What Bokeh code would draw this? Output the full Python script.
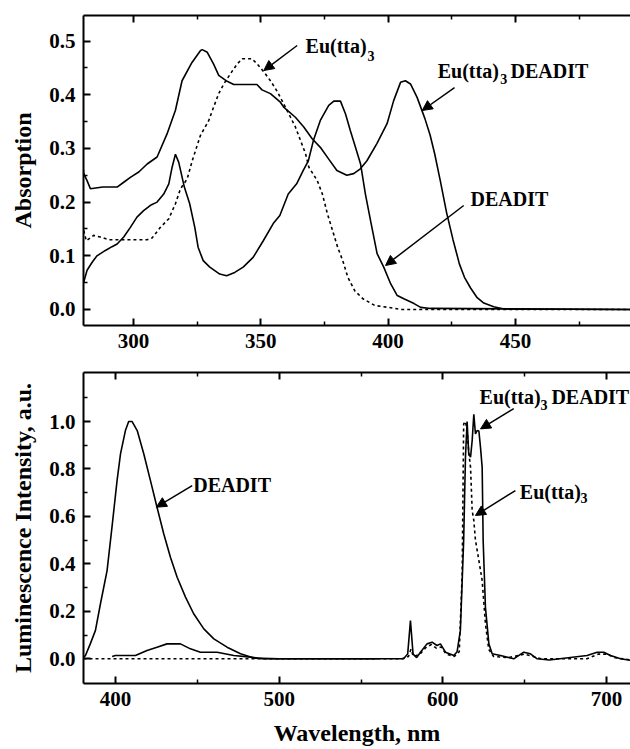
from bokeh.plotting import figure
from bokeh.layouts import column
from bokeh.models import (Arrow, NormalHead, Label, LinearAxis, FixedTicker,
                          Range1d, NumeralTickFormatter)
from bokeh.embed import file_html
from bokeh.resources import INLINE

# ---------------- data: absorption (top panel) ----------------
abs_complex_x = [280.3, 280.5, 281.8, 283.1, 288.0, 293.6, 296.2, 298.8, 302.1, 305.4, 309.3,
                 313.2, 316.5, 319.1, 323.0, 326.3, 327.0, 329.0, 331.5, 333.5, 336.8, 339.4,
                 348.5, 350.5, 353.8, 357.7, 359.0, 363.6, 366.9, 370.2, 373.4, 376.7, 379.9,
                 383.8, 386.5, 389.1, 391.7, 395.6, 399.6, 402.2, 404.9, 406.8, 408.8, 411.4,
                 414.5, 416.5, 418.3, 420.5, 423.0, 425.5, 428.0, 430.0, 432.4, 435.0, 437.6,
                 441.5, 445.5, 496.0]
abs_complex_y = [0.262, 0.253, 0.240, 0.225, 0.228, 0.228, 0.237, 0.246, 0.256, 0.271, 0.284,
                 0.327, 0.371, 0.426, 0.460, 0.482, 0.484, 0.479, 0.457, 0.436, 0.425, 0.419,
                 0.419, 0.409, 0.402, 0.386, 0.377, 0.358, 0.340, 0.318, 0.302, 0.280, 0.259,
                 0.250, 0.253, 0.262, 0.277, 0.309, 0.346, 0.389, 0.423, 0.426, 0.420, 0.395,
                 0.355, 0.325, 0.290, 0.240, 0.180, 0.130, 0.085, 0.060, 0.040, 0.022, 0.012,
                 0.005, 0.001, 0.0]

abs_deadit_x = [280.5, 281.8, 283.8, 285.7, 289.0, 291.6, 293.6, 296.2, 298.8, 301.4, 304.0,
                306.7, 309.3, 311.9, 313.9, 315.2, 316.5, 317.8, 320.0, 322.1, 324.1, 325.4,
                327.4, 330.0, 333.9, 336.6, 339.8, 343.1, 347.0, 351.0, 354.9, 357.5, 360.8,
                364.1, 366.7, 368.7, 370.7, 373.4, 376.7, 378.7, 381.3, 383.3, 385.2, 387.2,
                389.2, 391.1, 393.1, 395.7, 398.3, 401.0, 403.6, 406.2, 410.2, 412.8, 416.7,
                496.0]
abs_deadit_y = [0.051, 0.073, 0.088, 0.100, 0.110, 0.117, 0.122, 0.135, 0.153, 0.172, 0.184,
                0.194, 0.200, 0.215, 0.234, 0.265, 0.289, 0.274, 0.228, 0.197, 0.153, 0.116,
                0.091, 0.079, 0.066, 0.063, 0.069, 0.079, 0.097, 0.128, 0.160, 0.175, 0.215,
                0.234, 0.259, 0.277, 0.315, 0.352, 0.380, 0.388, 0.388, 0.364, 0.333, 0.302,
                0.271, 0.215, 0.166, 0.104, 0.079, 0.048, 0.026, 0.020, 0.011, 0.004, 0.002,
                0.0]

abs_eutta_x = [280.5, 281.5, 284.4, 287.0, 290.3, 305.4, 307.3, 310.6, 313.9, 316.5, 318.5,
               321.1, 323.1, 326.3, 329.6, 331.5, 333.5, 335.5, 338.1, 340.7, 342.7, 346.6,
               349.2, 351.8, 354.1, 356.6, 359.0, 361.7, 363.6, 365.6, 367.6, 368.9, 372.2,
               374.2, 376.2, 378.2, 380.2, 382.2, 384.2, 386.9, 390.1, 394.8, 400.0, 405.0,
               496.0]
abs_eutta_y = [0.147, 0.128, 0.138, 0.135, 0.130, 0.130, 0.133, 0.153, 0.169, 0.197, 0.225,
               0.243, 0.277, 0.324, 0.352, 0.377, 0.402, 0.420, 0.439, 0.457, 0.467, 0.467,
               0.454, 0.439, 0.424, 0.405, 0.383, 0.358, 0.340, 0.315, 0.290, 0.265, 0.240,
               0.215, 0.178, 0.147, 0.116, 0.091, 0.060, 0.035, 0.020, 0.0075, 0.004, 0.0,
               0.0]

# ---------------- data: luminescence (bottom panel) ----------------
lum_deadit_x = [380.5, 381.7, 384.7, 387.8, 390.8, 394.9, 397.9, 401.0, 403.1, 406.1, 408.1,
                410.2, 413.3, 417.3, 421.4, 425.4, 429.5, 433.6, 437.7, 442.8, 447.8, 454.0,
                460.1, 468.2, 476.4, 484.5, 500.0, 560.0]
lum_deadit_y = [0.005, 0.014, 0.064, 0.120, 0.230, 0.372, 0.555, 0.751, 0.864, 0.962, 1.0,
                1.0, 0.962, 0.864, 0.751, 0.639, 0.527, 0.428, 0.344, 0.260, 0.190, 0.126,
                0.084, 0.049, 0.021, 0.003, 0.0, 0.0]

lum_complex_x = [398.0, 400.0, 412.2, 419.3, 425.4, 431.5, 439.7, 445.8, 451.9, 462.1, 472.3,
                 482.5, 490.0, 576.0, 578.5, 580.2, 581.8, 584.0, 586.3, 590.3, 593.4, 596.4,
                 598.5, 601.6, 606.7, 608.7, 610.7, 612.7, 613.8, 614.8, 615.8, 616.9, 617.9,
                 618.9, 619.9, 620.9, 622.0, 623.0, 624.0, 624.6, 626.0, 628.1, 630.1, 635.2,
                 643.3, 649.4, 653.5, 657.6, 665.0, 688.1, 694.2, 698.3, 702.4, 708.5, 715.0]
lum_complex_y = [0.010, 0.014, 0.014, 0.035, 0.049, 0.063, 0.063, 0.042, 0.028, 0.028, 0.014,
                 0.007, 0.0, 0.0, 0.020, 0.161, 0.020, 0.005, 0.028, 0.063, 0.070, 0.056,
                 0.063, 0.028, 0.014, 0.030, 0.120, 0.500, 0.850, 1.0, 0.864, 0.850, 0.920,
                 1.030, 0.948, 0.962, 0.960, 0.890, 0.807, 0.500, 0.217, 0.063, 0.021, 0.014,
                 0.0, 0.028, 0.021, 0.0, -0.005, 0.014, 0.028, 0.028, 0.014, 0.0, -0.007]

lum_eutta_x = [380.5, 575.0, 579.0, 580.5, 582.0, 586.0, 590.0, 593.0, 596.0, 599.0, 602.0,
               607.0, 610.0, 611.8, 612.7, 613.8, 614.8, 615.8, 616.9, 617.9, 618.9, 619.9,
               622.0, 624.0, 626.0, 628.0, 631.0, 640.0, 650.0, 660.0, 688.0, 695.0, 700.0,
               705.0, 715.0]
lum_eutta_y = [0.0, 0.0, 0.010, 0.040, 0.010, 0.020, 0.050, 0.060, 0.045, 0.050, 0.020,
               0.010, 0.030, 0.358, 0.990, 1.0, 0.960, 0.870, 0.807, 0.625, 0.583, 0.500,
               0.414, 0.330, 0.148, 0.040, 0.010, 0.005, 0.020, 0.0, 0.0, 0.020, 0.020,
               0.005, -0.005]

top_xticks = [300, 350, 400, 450]
top_xminor = [325, 375, 425, 475]
top_yticks = [0.0, 0.1, 0.2, 0.3, 0.4, 0.5]
top_yminor = [0.05, 0.15, 0.25, 0.35, 0.45]
bot_xticks = [400, 500, 600, 700]
bot_xminor = [450, 550, 650]
bot_yticks = [0.0, 0.2, 0.4, 0.6, 0.8, 1.0]
bot_yminor = [0.1, 0.3, 0.5, 0.7, 0.9, 1.1]

FONT = "Liberation Serif, Times New Roman, Times, serif"


def style_axis(ax, labels=True):
    ax.axis_line_width = 2
    ax.axis_line_color = "black"
    ax.major_tick_in = 7
    ax.major_tick_out = 0
    ax.minor_tick_in = 4
    ax.minor_tick_out = 0
    ax.major_tick_line_width = 2
    ax.minor_tick_line_width = 1.5
    ax.major_tick_line_color = "black"
    ax.minor_tick_line_color = "black"
    ax.major_label_text_font = FONT
    ax.major_label_text_font_style = "bold"
    if labels:
        ax.major_label_text_color = "black"
        ax.major_label_text_font_size = "21px"
    else:
        ax.major_label_text_color = None
        ax.major_label_text_font_size = "1px"
        ax.major_label_standoff = 0
    ax.axis_label_text_font = FONT
    ax.axis_label_text_font_style = "bold"
    ax.axis_label_text_font_size = "24px"
    ax.axis_label_text_color = "black"


def make_fig(xr, yr, h, bt, bb, xt, xm, yt, ym):
    p = figure(width=630, height=h, x_range=Range1d(*xr), y_range=Range1d(*yr),
               output_backend="svg", toolbar_location=None,
               min_border_left=83, min_border_right=0, min_border_top=bt,
               min_border_bottom=bb)
    p.outline_line_color = None
    p.xgrid.grid_line_color = None
    p.ygrid.grid_line_color = None
    bottom = p.below[0]
    left = p.left[0]
    bottom.ticker = FixedTicker(ticks=xt, minor_ticks=xm)
    left.ticker = FixedTicker(ticks=yt, minor_ticks=ym)
    left.formatter = NumeralTickFormatter(format="0.0")
    style_axis(bottom)
    style_axis(left)
    bottom.major_label_standoff = 8
    left.major_label_standoff = 8
    top = LinearAxis(ticker=FixedTicker(ticks=xt, minor_ticks=xm))
    style_axis(top, labels=False)
    p.add_layout(top, "above")
    return p, bottom, left


def label(p, x, y, text, size="20px"):
    p.add_layout(Label(x=x, y=y, text=text, text_font=FONT, text_font_style="bold",
                       text_font_size=size, text_color="black",
                       text_baseline="alphabetic", text_align="left"))


def arrow(p, x0, y0, x1, y1):
    p.add_layout(Arrow(end=NormalHead(size=10, fill_color="black", line_color="black",
                                      line_width=1),
                       x_start=x0, y_start=y0, x_end=x1, y_end=y1,
                       line_color="black", line_width=1.5))


# ---------------- top panel ----------------
p1, b1, l1 = make_fig((280.4, 495.2), (-0.0298, 0.5475), 362, 15, 37,
                      top_xticks, top_xminor, top_yticks, top_yminor)
l1.axis_label = "Absorption"
l1.axis_label_standoff = 10
p1.line(abs_complex_x, abs_complex_y, line_color="black", line_width=1.6)
p1.line(abs_deadit_x, abs_deadit_y, line_color="black", line_width=1.6)
p1.line(abs_eutta_x, abs_eutta_y, line_color="black", line_width=1.6, line_dash="3 3")

label(p1, 367.6, 0.4916, "Eu(tta)")
label(p1, 391.9, 0.473, "3", "14px")
arrow(p1, 364.3, 0.4916, 351.2, 0.445)

label(p1, 419.5, 0.445, "Eu(tta)")
label(p1, 444.1, 0.4296, "3", "14px")
label(p1, 448.1, 0.445, "DEADIT")
arrow(p1, 426.1, 0.413, 413.4, 0.3706)

label(p1, 432.4, 0.206, "DEADIT")
arrow(p1, 429.7, 0.1937, 399.0, 0.082)

# ---------------- bottom panel ----------------
p2, b2, l2 = make_fig((380.5, 714.6), (-0.104, 1.2066), 387, 10, 66,
                      bot_xticks, bot_xminor, bot_yticks, bot_yminor)
l2.axis_label = "Luminescence Intensity, a.u."
l2.axis_label_standoff = 10
b2.axis_label = "Wavelength, nm"
b2.axis_label_standoff = 11
p2.line(lum_deadit_x, lum_deadit_y, line_color="black", line_width=1.6)
p2.line(lum_complex_x, lum_complex_y, line_color="black", line_width=1.6)
p2.line(lum_eutta_x, lum_eutta_y, line_color="black", line_width=1.6, line_dash="3 3")

label(p2, 447.5, 0.733, "DEADIT")
arrow(p2, 446.9, 0.730, 425.0, 0.639)

label(p2, 622.4, 1.102, "Eu(tta)")
label(p2, 659.6, 1.070, "3", "14px")
label(p2, 666.3, 1.102, "DEADIT")
arrow(p2, 643.3, 1.054, 623.0, 0.969)

label(p2, 647.0, 0.702, "Eu(tta)")
label(p2, 684.1, 0.678, "3", "14px")
arrow(p2, 644.3, 0.709, 619.9, 0.604)

layout = column(p1, p2, spacing=0)
open("out.html", "w").write(file_html(layout, INLINE))
